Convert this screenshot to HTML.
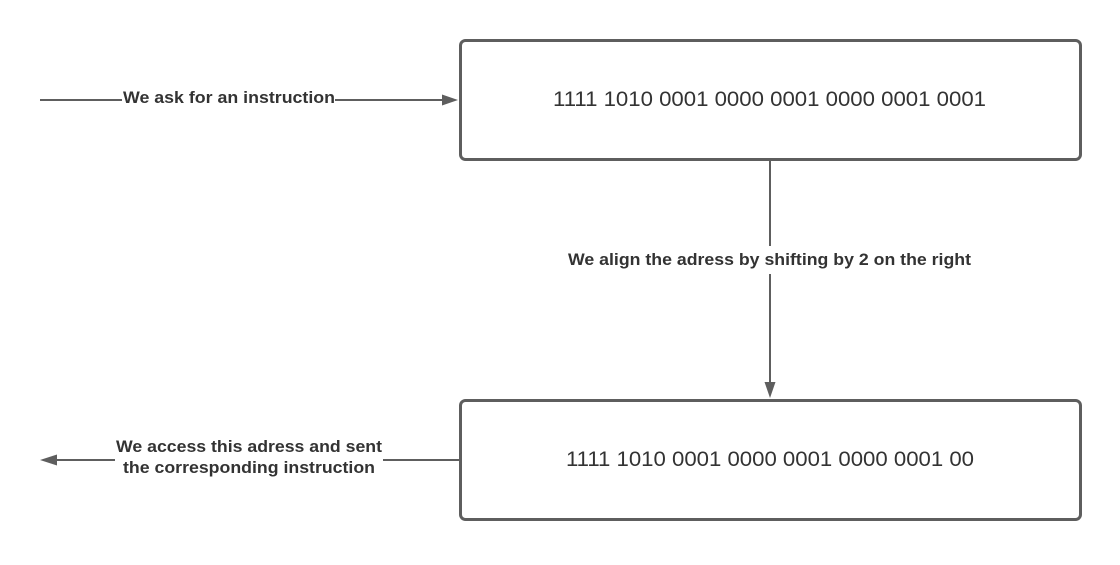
<!DOCTYPE html>
<html><head><style>body{margin:0;background:#fff}</style></head><body>
<svg width="1120" height="560" xmlns="http://www.w3.org/2000/svg" font-family="Liberation Sans, Arial, sans-serif">
<rect width="1120" height="560" fill="#fff"/>
<rect x="460.5" y="40.5" width="620" height="119" rx="5" fill="#fff" stroke="#5e5e5e" stroke-width="3"/>
<rect x="460.5" y="400.5" width="620" height="119" rx="5" fill="#fff" stroke="#5e5e5e" stroke-width="3"/>
<text x="553" y="106" font-size="21" fill="#333" textLength="433" lengthAdjust="spacingAndGlyphs">1111 1010 0001 0000 0001 0000 0001 0001</text>
<text x="566" y="466" font-size="21" fill="#333" textLength="408" lengthAdjust="spacingAndGlyphs">1111 1010 0001 0000 0001 0000 0001 00</text>
<g stroke="#5e5e5e" stroke-width="2" fill="none">
<line x1="40" y1="100" x2="122" y2="100"/>
<line x1="335" y1="100" x2="444" y2="100"/>
<line x1="770" y1="160" x2="770" y2="246"/>
<line x1="770" y1="274" x2="770" y2="384"/>
<line x1="459" y1="460" x2="383" y2="460"/>
<line x1="115" y1="460" x2="56" y2="460"/>
</g>
<g fill="#5e5e5e">
<polygon points="458,100 442,94.5 442,105.5"/>
<polygon points="770,398 764.5,382 775.5,382"/>
<polygon points="40,460 57,454.5 57,465.5"/>
</g>
<g font-size="17" font-weight="bold" fill="#333" lengthAdjust="spacingAndGlyphs">
<text x="123" y="103" textLength="212" lengthAdjust="spacingAndGlyphs">We ask for an instruction</text>
<text x="568" y="265" textLength="403" lengthAdjust="spacingAndGlyphs">We align the adress by shifting by 2 on the right</text>
<text x="116" y="452" textLength="266" lengthAdjust="spacingAndGlyphs">We access this adress and sent</text>
<text x="123" y="473" textLength="252" lengthAdjust="spacingAndGlyphs">the corresponding instruction</text>
</g>
</svg>
</body></html>
